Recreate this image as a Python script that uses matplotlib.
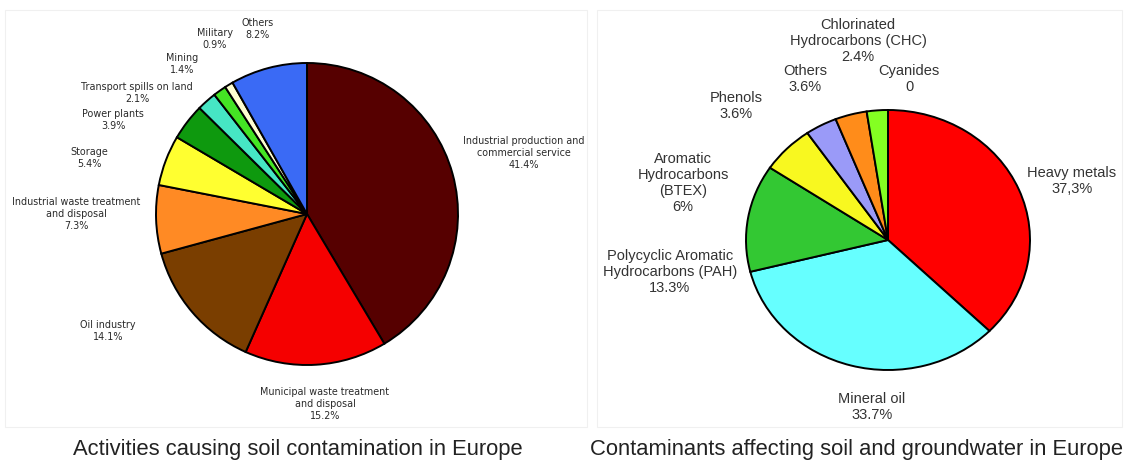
import matplotlib
matplotlib.use("Agg")
import matplotlib.pyplot as plt
from matplotlib.patches import Rectangle

# left chart: activities causing soil contamination
act_labels = ["Industrial production and\ncommercial service", "Municipal waste treatment\nand disposal",
              "Oil industry", "Industrial waste treatment\nand disposal", "Storage", "Power plants",
              "Transport spills on land", "Mining", "Military", "Others"]
act_values = [41.4, 15.2, 14.1, 7.3, 5.4, 3.9, 2.1, 1.4, 0.9, 8.2]
act_text = ["41.4%", "15.2%", "14.1%", "7.3%", "5.4%", "3.9%", "2.1%", "1.4%", "0.9%", "8.2%"]
act_colors = ["#560000", "#f50000", "#7a3e00", "#ff8a24", "#ffff30", "#0e990e",
              "#46e6c4", "#44e424", "#ffffd0", "#3a6af5"]

# right chart: contaminants affecting soil and groundwater
con_labels = ["Heavy metals", "Mineral oil", "Polycyclic Aromatic\nHydrocarbons (PAH)",
              "Aromatic\nHydrocarbons\n(BTEX)", "Phenols", "Others", "Chlorinated\nHydrocarbons (CHC)"]
con_values = [37.3, 33.7, 13.3, 6.0, 3.6, 3.6, 2.4]
con_text = ["37,3%", "33.7%", "13.3%", "6%", "3.6%", "3.6%", "2.4%"]
con_colors = ["#ff0000", "#66ffff", "#33c833", "#f8f820", "#9a9af8", "#ff8c1a", "#84ff22"]

W, H = 1124, 461

# label anchor positions in pixels (x, y from top)
act_pos = [(524, 153), (325, 404), (108, 331), (76, 214), (89, 158), (113, 120),
           (137, 93), (182, 64), (215, 39), (258, 29)]
con_pos = [(1072, 181), (872, 407), (670, 272), (683, 183), (736, 106), (805, 79), (858, 41)]


def fx(x):
    return x / W


def fy(y):
    return 1 - y / H


fig = plt.figure(figsize=(W / 100, H / 100), dpi=100)
fig.patch.set_facecolor("white")

# faint panel borders of the two screenshots
fig.add_artist(Rectangle((fx(5), fy(427)), fx(582), 417 / H, transform=fig.transFigure,
                         fill=False, ec="#f0f0f0", lw=0.8))
fig.add_artist(Rectangle((fx(597), fy(427)), fx(525), 417 / H, transform=fig.transFigure,
                         fill=False, ec="#f0f0f0", lw=0.8))

# left pie: centre (307, 214), radius 151 px
ax1 = fig.add_axes([fx(307 - 151), fy(214 + 151), fx(302), 302 / H])
ax1.pie(act_values, colors=act_colors, startangle=90, counterclock=False,
        wedgeprops=dict(edgecolor="black", linewidth=1.4))
ax1.set_aspect("auto")
ax1.set_xlim(-1, 1)
ax1.set_ylim(-1, 1)
ax1.axis("off")

for lab, txt, (x, y) in zip(act_labels, act_text, act_pos):
    fig.text(fx(x), fy(y), lab + "\n" + txt, ha="center", va="center", fontsize=6.9,
             family="DejaVu Sans", color="#2a2a2a", linespacing=1.2, multialignment="center")

# right pie: centre (888, 240), radii 142 x 130 px
ax2 = fig.add_axes([fx(888 - 142), fy(240 + 130), fx(284), 260 / H])
ax2.pie(con_values, colors=con_colors, startangle=90, counterclock=False,
        wedgeprops=dict(edgecolor="black", linewidth=1.4))
ax2.set_aspect("auto")
ax2.set_xlim(-1, 1)
ax2.set_ylim(-1, 1)
ax2.axis("off")

for lab, txt, (x, y) in zip(con_labels, con_text, con_pos):
    fig.text(fx(x), fy(y), lab + "\n" + txt, ha="center", va="center", fontsize=10.5,
             family="Liberation Sans", color="#333333", linespacing=1.2, multialignment="center")

# cyanides have no wedge (0)
fig.text(fx(909), fy(79), "Cyanides\n0", ha="center", va="center", fontsize=10.5,
         family="Liberation Sans", color="#333333", linespacing=1.2)

# captions
fig.text(fx(298), fy(449), "Activities causing soil contamination in Europe", ha="center",
         va="center", fontsize=15.8, family="Liberation Sans", color="#222222")
fig.text(fx(590), fy(449), "Contaminants affecting soil and groundwater in Europe", ha="left",
         va="center", fontsize=15.8, family="Liberation Sans", color="#222222")

fig.savefig("out.png", dpi=100, facecolor="white")
